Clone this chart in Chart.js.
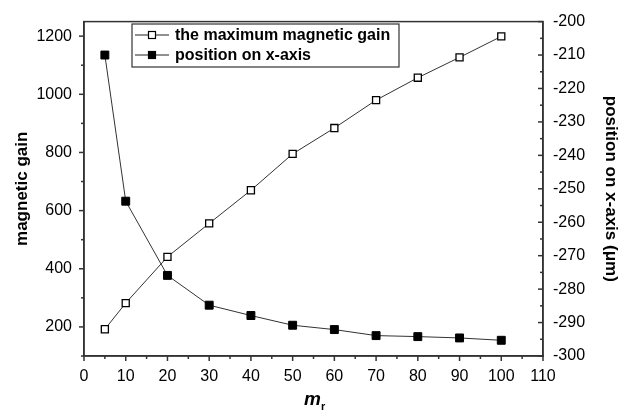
<!DOCTYPE html>
<html>
<head>
<meta charset="utf-8">
<script src="https://cdn.jsdelivr.net/npm/chart.js@4"></script>
<style>
  html, body { margin: 0; padding: 0; background: #fff; }
  canvas { display: block; }
</style>
</head>
<body>
<canvas id="gainChart" width="625" height="411"></canvas>
<script>
const mrValues = [5, 10, 20, 30, 40, 50, 60, 70, 80, 90, 100];
const maxGain = [192, 282, 441, 556, 670, 795, 884, 980, 1057, 1127, 1199];
const positionOnX = [-210, -253.7, -275.9, -284.8, -287.9, -290.8, -292.1, -293.9, -294.2, -294.6, -295.3];
const gainTicks = [200, 400, 600, 800, 1000, 1200];
const seriesLabels = ['the maximum magnetic gain', 'position on x-axis'];

const fontFamily = "'Liberation Sans', Arial, sans-serif";
const axisColor = '#333';

Chart.defaults.font.family = fontFamily;
Chart.defaults.color = '#000';

const toPoints = values => mrValues.map((x, i) => ({ x, y: values[i] }));
const plainNumber = value => String(value);

// ticks are drawn by hand: major + minor, direction differs per axis
const tickMarks = {
  id: 'tickMarks',
  afterDraw(chart) {
    const { ctx, chartArea } = chart;
    ctx.save();
    ctx.strokeStyle = axisColor;
    ctx.lineWidth = 1.5;
    ctx.strokeRect(chartArea.left, chartArea.top, chartArea.right - chartArea.left, chartArea.bottom - chartArea.top);

    const drawScale = (scale, dir) => {
      const values = scale.ticks.map(t => t.value);
      const mids = [];
      for (let i = 0; i < values.length - 1; i++) mids.push((values[i] + values[i + 1]) / 2);
      if (scale.id === 'y') mids.unshift(values[0] - (values[1] - values[0]) / 2);
      const mark = (v, len) => {
        const p = scale.getPixelForValue(v);
        ctx.beginPath();
        if (scale.isHorizontal()) {
          ctx.moveTo(p, chartArea.bottom);
          ctx.lineTo(p, chartArea.bottom + len);
        } else {
          const x0 = scale.id === 'y' ? chartArea.left : chartArea.right;
          ctx.moveTo(x0, p);
          ctx.lineTo(x0 + dir * len, p);
        }
        ctx.stroke();
      };
      values.forEach(v => mark(v, 5));
      mids.forEach(v => mark(v, 3));
    };
    drawScale(chart.scales.x, 1);
    drawScale(chart.scales.y, -1);
    drawScale(chart.scales.y1, -1);
    ctx.restore();
  },
};

// legend box inside the plot
const boxLegend = {
  id: 'boxLegend',
  afterDraw(chart) {
    const { ctx } = chart;
    ctx.save();
    ctx.strokeStyle = axisColor;
    ctx.lineWidth = 1.2;
    ctx.fillStyle = '#fff';
    ctx.fillRect(132, 24, 267, 43);
    ctx.strokeRect(132, 24, 267, 43);
    chart.data.datasets.forEach((ds, i) => {
      const y = 35 + i * 20;
      ctx.strokeStyle = '#222';
      ctx.lineWidth = 1.2;
      ctx.beginPath();
      ctx.moveTo(135, y);
      ctx.lineTo(169, y);
      ctx.stroke();
      ctx.fillStyle = ds.pointBackgroundColor;
      ctx.fillRect(148.5, y - 3.5, 7, 7);
      ctx.strokeStyle = '#000';
      ctx.strokeRect(148.5, y - 3.5, 7, 7);
      ctx.fillStyle = '#000';
      ctx.font = `bold 16px ${fontFamily}`;
      ctx.textBaseline = 'middle';
      ctx.textAlign = 'left';
      ctx.fillText(ds.label, 175, y + 1);
    });
    ctx.restore();
  },
};

// x title: m with subscript r
const xTitle = {
  id: 'xTitle',
  afterDraw(chart) {
    const { ctx } = chart;
    ctx.save();
    ctx.fillStyle = '#000';
    ctx.textBaseline = 'alphabetic';
    ctx.textAlign = 'left';
    ctx.font = `italic bold 19px ${fontFamily}`;
    ctx.fillText('m', 304, 405);
    ctx.font = `bold 11px ${fontFamily}`;
    ctx.fillText('r', 321, 410);
    ctx.restore();
  },
};

new Chart(document.getElementById('gainChart'), {
  type: 'line',
  data: {
    datasets: [
      {
        label: seriesLabels[0],
        data: toPoints(maxGain),
        yAxisID: 'y',
        borderColor: '#333',
        borderWidth: 1,
        pointStyle: 'rect',
        pointRadius: 5,
        pointBackgroundColor: '#fff',
        pointBorderColor: '#000',
        pointBorderWidth: 1.3,
        tension: 0,
      },
      {
        label: seriesLabels[1],
        data: toPoints(positionOnX),
        yAxisID: 'y1',
        borderColor: '#333',
        borderWidth: 1,
        pointStyle: 'rect',
        pointRadius: 5.6,
        pointBackgroundColor: '#000',
        pointBorderColor: '#000',
        pointBorderWidth: 1,
        tension: 0,
      },
    ],
  },
  options: {
    responsive: false,
    animation: false,
    layout: { padding: { top: 19, left: 0, right: 0, bottom: 0 } },
    plugins: { legend: { display: false }, tooltip: { enabled: false } },
    scales: {
      x: {
        type: 'linear',
        min: 0,
        max: 110,
        ticks: { stepSize: 10, padding: 11, maxRotation: 0, autoSkip: false, font: { size: 16 }, callback: plainNumber },
        grid: { display: false, drawTicks: false },
        border: { color: axisColor, width: 1.5 },
        afterFit: scale => { scale.height = 55; },
      },
      y: {
        position: 'left',
        min: 100,
        max: 1250,
        afterBuildTicks: scale => { scale.ticks = gainTicks.map(value => ({ value })); },
        ticks: { padding: 12, font: { size: 16 }, callback: plainNumber },
        grid: { display: false, drawTicks: false },
        border: { color: axisColor, width: 1.5 },
        title: { display: true, text: 'magnetic gain', font: { size: 17, weight: 'bold' }, padding: { top: 12, bottom: 0 } },
        afterFit: scale => { scale.width = 84; },
      },
      y1: {
        position: 'right',
        min: -300,
        max: -200,
        ticks: { stepSize: 10, padding: 10, font: { size: 16 }, callback: plainNumber },
        grid: { display: false, drawTicks: false },
        border: { color: axisColor, width: 1.5 },
        title: { display: true, text: 'position on x-axis (μm)', font: { size: 17, weight: 'bold' }, padding: { top: 4, bottom: 0 } },
        afterFit: scale => { scale.width = 82; },
      },
    },
  },
  plugins: [tickMarks, boxLegend, xTitle],
});
</script>
</body>
</html>
